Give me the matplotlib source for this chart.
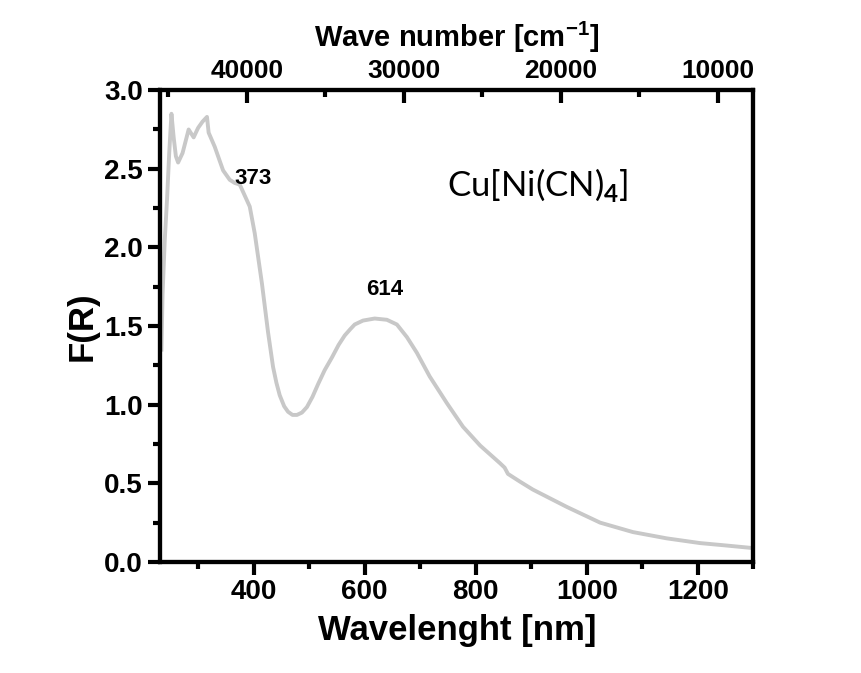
import matplotlib
matplotlib.use("Agg")
import matplotlib.pyplot as plt
from matplotlib.ticker import MultipleLocator

# daten
wellenlaenge = [234, 236, 240, 244, 248, 252, 256, 260, 264, 272, 283, 292, 300, 308, 316, 319,
                330, 345, 357, 366, 375, 384, 393, 402, 415, 426, 435, 441, 447, 455, 462, 470, 478,
                487, 496, 506, 516, 528, 541, 553, 564, 574, 582, 597, 618, 640, 658, 676, 694,
                717, 748, 777, 808, 843, 852, 858, 880, 903, 964, 1024, 1083, 1144, 1204, 1250, 1294]
f_r = [1.35, 1.70, 2.05, 2.30, 2.60, 2.85, 2.70, 2.58, 2.54, 2.60, 2.75, 2.70, 2.76, 2.80, 2.83, 2.73,
       2.64, 2.49, 2.43, 2.41, 2.40, 2.33, 2.26, 2.09, 1.77, 1.46, 1.24, 1.14, 1.06, 0.99, 0.955, 0.935, 0.935,
       0.95, 0.985, 1.05, 1.13, 1.22, 1.30, 1.38, 1.44, 1.48, 1.51, 1.535, 1.548, 1.54, 1.51, 1.43, 1.33,
       1.18, 1.01, 0.86, 0.74, 0.63, 0.60, 0.56, 0.51, 0.46, 0.35, 0.25, 0.19, 0.15, 0.12, 0.105, 0.09]

peak_labels = ["373", "614"]
peak_pos = [(399, 2.44), (636, 1.73)]

plt.rcParams['font.family'] = 'Liberation Sans'
plt.rcParams['font.weight'] = 'bold'
plt.rcParams['mathtext.fontset'] = 'custom'
plt.rcParams['mathtext.rm'] = 'Lato'
plt.rcParams['mathtext.bf'] = 'Liberation Sans:bold'

fig = plt.figure(figsize=(8.62, 6.73), dpi=100)
ax = fig.add_axes([0.186, 0.165, 0.688, 0.701])

ax.plot(wellenlaenge, f_r, color="#c8c8c8", lw=2.8)

ax.set_xlim(232, 1300)
ax.set_ylim(0, 3.0)
ax.xaxis.set_major_locator(MultipleLocator(200))
ax.xaxis.set_minor_locator(MultipleLocator(100))
ax.yaxis.set_major_locator(MultipleLocator(0.5))
ax.yaxis.set_minor_locator(MultipleLocator(0.25))
ax.yaxis.set_major_formatter(plt.FormatStrFormatter('%.1f'))

for s in ax.spines.values():
    s.set_linewidth(3)

ax.tick_params(axis='both', which='major', direction='out', length=9, width=3, labelsize=20)
ax.tick_params(axis='both', which='minor', direction='out', length=5, width=3)
ax.tick_params(right=False, which='both')

ax.set_xlabel("Wavelenght [nm]", fontsize=25, fontweight='bold', labelpad=6)
ax.set_ylabel("F(R)", fontsize=25, fontweight='bold', labelpad=4)

# obere achse (wellenzahl)
ax2 = ax.twiny()
ax2.set_xlim(45500, 7750)
ax2.xaxis.set_major_locator(MultipleLocator(10000))
ax2.xaxis.set_minor_locator(MultipleLocator(5000))
ax2.tick_params(which='major', direction='in', length=9, width=3, labelsize=19, pad=5)
ax2.tick_params(which='minor', direction='in', length=5, width=3)
ax2.set_xlabel(r"Wave number [cm$^{\mathbf{-1}}$]", fontsize=21, fontweight='bold', labelpad=9)
for s in ax2.spines.values():
    s.set_linewidth(3)

for txt, (x, y) in zip(peak_labels, peak_pos):
    ax.text(x, y, txt, fontsize=16, fontweight='bold', ha='center', va='center')

ax.text(748, 2.40, r"Cu[Ni(CN)$_{\mathrm{4}}$]", fontsize=25, family='Lato', fontweight='normal',
        ha='left', va='center')

fig.savefig("out.png", dpi=100)
